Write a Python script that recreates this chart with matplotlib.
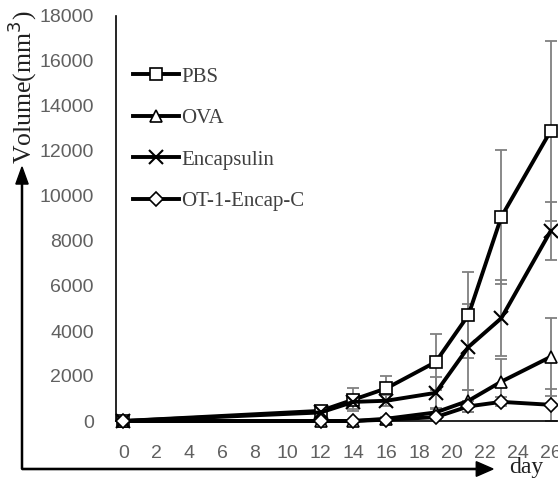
import matplotlib
matplotlib.use('Agg')
import matplotlib.pyplot as plt
from matplotlib.patches import FancyArrow

# days of measurement
days = [0, 12, 14, 16, 19, 21, 23, 26]

# tumour volume (mm3) and error for each group
pbs = [0, 450, 950, 1450, 2620, 4710, 9070, 12890]
pbs_err = [0, 150, 500, 550, 1250, 1930, 2970, 4000]
ova = [0, 0, 0, 100, 380, 900, 1750, 2850]
ova_err = [0, 0, 0, 100, 200, 500, 1000, 1720]
encap = [0, 380, 850, 900, 1250, 3290, 4570, 8440]
encap_err = [0, 100, 300, 250, 700, 1900, 1700, 1290]
ot1 = [0, 0, 0, 60, 170, 650, 850, 720]
ot1_err = [0, 0, 0, 60, 100, 250, 200, 700]

labels = ['PBS', 'OVA', 'Encapsulin', 'OT-1-Encap-C']
markers = ['s', '^', 'x', 'D']
yticks = [0, 2000, 4000, 6000, 8000, 10000, 12000, 14000, 16000, 18000]
xticks = list(range(0, 27, 2))

fig = plt.figure(figsize=(5.58, 4.87), dpi=100)
ax = fig.add_axes([116 / 558, 1 - 421 / 487, 1 - 116 / 558, (421 - 16) / 487])

series = [(pbs, pbs_err), (ova, ova_err), (encap, encap_err), (ot1, ot1_err)]
for (vals, err), lab, m in zip(series, labels, markers):
    ax.errorbar(days, vals, yerr=err, fmt='none', ecolor='#808080',
                elinewidth=1.3, capsize=4, capthick=1.3, zorder=2, clip_on=False)
    ms = 9 if m == 's' else (8 if m == '^' else 7)
    if m == 'x':
        ax.plot(days, vals, color='black', lw=2.8, marker='x', ms=10, mew=1.5,
                label=lab, zorder=3, clip_on=False)
    else:
        ax.plot(days, vals, color='black', lw=2.8, marker=m, ms=ms, mfc='white',
                mec='black', mew=1.2, label=lab, zorder=3, clip_on=False)

ax.set_xlim(-0.45, 26.45)
ax.set_ylim(0, 18000)
ax.set_xticks(xticks)
ax.set_yticks(yticks)
ax.spines['top'].set_visible(False)
ax.spines['right'].set_visible(False)
ax.spines['left'].set_linewidth(1.2)
ax.spines['bottom'].set_linewidth(1.2)
ax.xaxis.set_tick_params(length=0, labelsize=14, labelcolor='#606060', pad=17)
ax.yaxis.set_tick_params(length=0, labelsize=14, labelcolor='#606060', pad=16)
for t in ax.xaxis.get_major_ticks():
    t.set_pad(17)
for t in ax.get_xticklabels() + ax.get_yticklabels():
    t.set_family('Liberation Sans')

leg = ax.legend(loc='upper left', bbox_to_anchor=(0.0, 0.915), frameon=False,
                prop={'family': 'Liberation Serif', 'size': 15},
                handlelength=2.2, labelspacing=1.05, handletextpad=0.15,
                borderaxespad=0.4)
for t in leg.get_texts():
    t.set_color('#404040')

# axis arrows and labels in figure space
fig.add_artist(FancyArrow(22 / 558, 1 - 469 / 487, 0, (469 - 167) / 487,
                          width=0.002, head_width=0.022, head_length=0.035,
                          length_includes_head=True, color='black',
                          transform=fig.transFigure))
fig.add_artist(FancyArrow(22 / 558, 1 - 469 / 487, (493 - 22) / 558, 0,
                          width=0.0025, head_width=0.03, head_length=0.03,
                          length_includes_head=True, color='black',
                          transform=fig.transFigure))
fig.text(22 / 558, 1 - 87 / 487, 'Volume(mm$^3$)', rotation=90, ha='center',
         va='center', family='Liberation Serif', size=18.5, color='#202020')
fig.text(526 / 558, 1 - 468 / 487, 'day', ha='center', va='center',
         family='Liberation Serif', size=17, color='#202020')

fig.savefig('out.png', dpi=100)
